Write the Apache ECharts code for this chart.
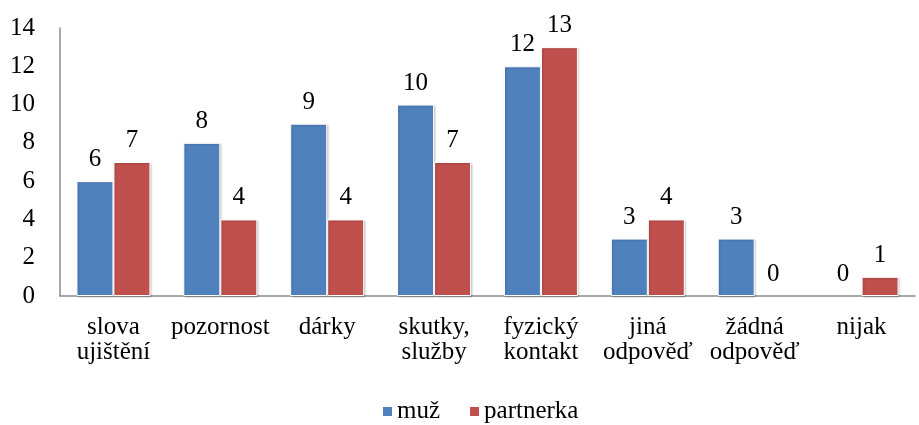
<!DOCTYPE html>
<html>
<head>
<meta charset="utf-8">
<script src="https://cdn.jsdelivr.net/npm/echarts@6/dist/echarts.min.js"></script>
<style>
  html, body { margin: 0; padding: 0; background: #fff; }
  #chart { width: 919px; height: 425px; }
</style>
</head>
<body>
<div id="chart"></div>
<script>
var categories = ['slova\nujištění', 'pozornost', 'dárky', 'skutky,\nslužby', 'fyzický\nkontakt', 'jiná\nodpověď', 'žádná\nodpověď', 'nijak'];
var muz = [6, 8, 9, 10, 12, 3, 3, 0];
var partnerka = [7, 4, 4, 7, 13, 4, 0, 1];
var seriesNames = ['muž', 'partnerka'];

var fontFam = '"Liberation Serif", "Times New Roman", serif';

// nulove sloupce bez okraje a stinu
function barData(arr) {
	return arr.map(function (v) {
		if (v === 0) {
			return { value: v, itemStyle: { borderWidth: 0, shadowBlur: 0, shadowOffsetX: 0, shadowOffsetY: 0, shadowColor: 'transparent' } };
		}
		return v;
	});
}

function makeSeries(name, arr, color) {
	return {
		name: name,
		type: 'bar',
		data: barData(arr),
		barWidth: 37,
		barGap: '0%',
		itemStyle: {
			color: color,
			borderColor: '#fff',
			borderWidth: 1,
			shadowColor: 'rgba(0,0,0,0.2)',
			shadowBlur: 2,
			shadowOffsetX: 1,
			shadowOffsetY: 1
		},
		label: {
			show: true,
			position: 'top',
			distance: 9,
			fontFamily: fontFam,
			fontSize: 25,
			color: '#000'
		}
	};
}

var myChart = echarts.init(document.getElementById('chart'));
var option = {
	animation: false,
	textStyle: { fontFamily: fontFam },
	grid: {
		left: 60,
		right: 4,
		top: 28,
		bottom: 129
	},
	legend: {
		top: 394,
		left: 376,
		itemWidth: 11,
		itemHeight: 11,
		itemGap: 28,
		icon: 'rect',
		textStyle: { fontFamily: fontFam, fontSize: 25, color: '#000', padding: [0, 0, 0, -1] },
		data: seriesNames
	},
	xAxis: {
		type: 'category',
		data: categories,
		axisLine: { lineStyle: { color: '#8c8c8c', width: 1.5 } },
		axisTick: { show: false },
		axisLabel: {
			fontFamily: fontFam,
			fontSize: 25,
			color: '#000',
			interval: 0,
			margin: 19,
			lineHeight: 25
		}
	},
	yAxis: {
		type: 'value',
		min: 0,
		max: 14,
		interval: 2,
		axisLine: { show: true, lineStyle: { color: '#8c8c8c', width: 1.5 } },
		axisTick: { show: false },
		splitLine: { show: false },
		axisLabel: {
			fontFamily: fontFam,
			fontSize: 25,
			color: '#000',
			margin: 25
		}
	},
	series: [
		makeSeries(seriesNames[0], muz, '#4F81BD'),
		makeSeries(seriesNames[1], partnerka, '#C0504D')
	]
};
myChart.setOption(option);
</script>
</body>
</html>
